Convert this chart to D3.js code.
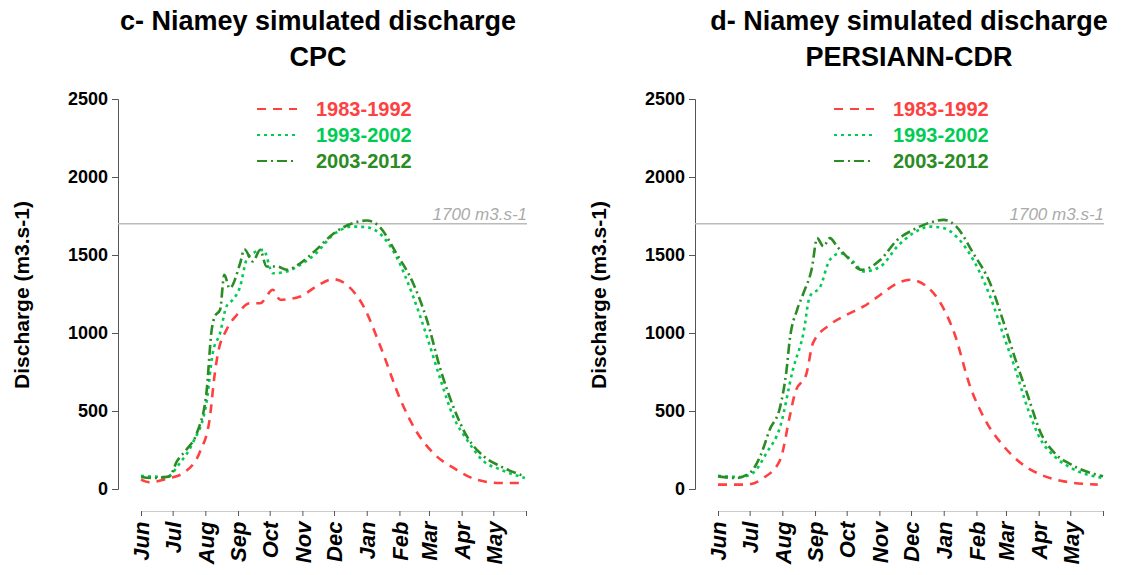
<!DOCTYPE html>
<html><head><meta charset="utf-8">
<script src="https://cdn.jsdelivr.net/npm/d3@7"></script>
<style>body{margin:0;background:#fff;font-family:"Liberation Sans",Arial,sans-serif}</style>
</head><body><div id="chart"></div>
<script>
// day of hydrological year (0 = 1 June), discharge m3/s
const monthLabels = ["Jun","Jul","Aug","Sep","Oct","Nov","Dec","Jan","Feb","Mar","Apr","May"];
const monthStarts = [0,30,61,92,122,153,183,214,245,273,304,334,365];
const seriesNames = ["1983-1992","1993-2002","2003-2012"];

const cpc8392 = [[0,60],[8,43],[27,70],[40,102],[56,241],[65,444],[70,743],[73,871],[81,1020],[91,1117],[103,1191],[113,1191],[125,1277],[132,1213],[151,1234],[166,1298],[182,1345],[195,1309],[211,1170],[227,914],[246,572],[262,359],[277,231],[299,124],[318,60],[341,38],[364,38]];
const cpc9302 = [[0,85],[24,77],[37,167],[49,295],[62,551],[68,871],[75,1000],[81,1170],[87,1213],[94,1298],[100,1469],[106,1511],[116,1533],[125,1383],[138,1394],[151,1437],[166,1511],[182,1629],[201,1682],[214,1678],[226,1640],[242,1490],[258,1234],[271,978],[284,700],[296,465],[309,316],[325,177],[341,124],[364,70]];
const cpc0312 = [[0,77],[11,70],[27,81],[34,177],[43,252],[53,359],[62,615],[67,1020],[70,1106],[75,1149],[79,1373],[84,1287],[94,1447],[98,1537],[106,1458],[113,1533],[119,1426],[129,1426],[138,1405],[151,1447],[166,1533],[182,1635],[201,1704],[214,1721],[226,1682],[242,1511],[258,1319],[271,1085],[284,764],[296,529],[309,337],[325,209],[341,145],[364,81]];

const per8392 = [[0,28],[27,28],[43,70],[59,188],[68,465],[73,615],[84,743],[90,935],[106,1053],[122,1117],[138,1170],[154,1245],[170,1319],[182,1341],[198,1298],[211,1191],[224,1000],[239,658],[255,423],[271,273],[287,167],[306,92],[328,49],[360,28]];
const per9302 = [[0,85],[21,77],[33,102],[46,231],[59,401],[71,764],[81,1000],[87,1234],[97,1298],[106,1469],[116,1511],[128,1458],[138,1394],[154,1426],[170,1554],[185,1640],[201,1682],[214,1672],[226,1618],[242,1469],[258,1234],[271,978],[281,786],[294,508],[306,316],[319,209],[335,134],[365,70]];
const per0312 = [[0,81],[17,70],[30,102],[40,209],[49,380],[59,529],[65,764],[68,956],[75,1149],[81,1255],[89,1415],[94,1608],[100,1554],[106,1608],[113,1554],[122,1490],[136,1405],[154,1469],[170,1597],[185,1661],[201,1708],[214,1725],[226,1682],[242,1511],[258,1319],[271,1063],[281,850],[294,593],[306,359],[319,231],[335,156],[365,81]];

const colors = ["#ff4040","#00cc55","#2a8c22"];
const dashes = ["9,7","3,4","10,4,2,4"];

const svg = d3.select("#chart").append("svg").attr("width",1129).attr("height",575);

function panel(ox, jx, tcx, title1, title2, data) {
  const x = d3.scaleLinear().domain([0,365]).range([jx, jx+385]);
  const y = d3.scaleLinear().domain([0,2500]).range([489, 99]);
  const g = svg.append("g");
  g.append("text").attr("x",tcx).attr("y",30).attr("text-anchor","middle")
    .attr("font-size",27).attr("font-weight","bold").text(title1);
  g.append("text").attr("x",tcx).attr("y",66).attr("text-anchor","middle")
    .attr("font-size",27).attr("font-weight","bold").text(title2);
  g.append("text").attr("transform",`translate(${ox+11},295) rotate(-90)`).attr("text-anchor","middle")
    .attr("font-size",21).attr("font-weight","bold").text("Discharge (m3.s-1)");

  const ya = g.append("g").attr("transform",`translate(${ox+100},0)`)
    .call(d3.axisLeft(y).tickValues([0,500,1000,1500,2000,2500]).tickFormat(d3.format("d")).tickSize(6).tickPadding(4));
  ya.select(".domain").attr("stroke","#555");
  ya.selectAll(".tick line").attr("stroke","#555");
  ya.selectAll("text").attr("font-size",18).attr("font-weight","bold").attr("fill","#000")
    .attr("font-family","Liberation Sans, Arial, sans-serif");

  const xa = g.append("g").attr("transform","translate(0,511)")
    .call(d3.axisBottom(x).tickValues(monthStarts).tickSize(5).tickSizeOuter(0).tickFormat((d,i)=>monthLabels[i]||""));
  xa.select(".domain").attr("stroke","#ccc");
  xa.selectAll(".tick line").attr("stroke","#555");
  xa.selectAll("text").attr("font-size",22).attr("font-weight","bold").attr("font-style","italic")
    .attr("fill","#000").attr("font-family","Liberation Sans, Arial, sans-serif")
    .attr("transform","rotate(-90)").attr("text-anchor","end").attr("dx","-0.3em").attr("dy","0.35em").attr("y",0).attr("x",-4);

  g.append("line").attr("x1",ox+100).attr("x2",jx+386).attr("y1",y(1700)).attr("y2",y(1700))
    .attr("stroke","#bbb").attr("stroke-width",1.5);
  g.append("text").attr("x",jx+386).attr("y",y(1700)-4).attr("text-anchor","end")
    .attr("font-size",17).attr("font-style","italic").attr("fill","#aaa").text("1700 m3.s-1");

  const line = d3.line().x(d=>x(d[0])).y(d=>y(d[1])).curve(d3.curveMonotoneX);
  data.forEach((s,i)=>{
    g.append("path").datum(s).attr("d",line).attr("fill","none")
      .attr("stroke",colors[i]).attr("stroke-width",2.6).attr("stroke-dasharray",dashes[i]);
    const ly = 109 + i*26;
    g.append("line").attr("x1",jx+116).attr("x2",jx+156).attr("y1",ly).attr("y2",ly)
      .attr("stroke",colors[i]).attr("stroke-width",2.2).attr("stroke-dasharray",dashes[i]);
    g.append("text").attr("x",jx+175).attr("y",ly+7).attr("font-size",20).attr("font-weight","bold")
      .attr("fill",colors[i]).text(seriesNames[i]);
  });
}
panel(18, 141, 318, "c- Niamey simulated discharge", "CPC", [cpc8392, cpc9302, cpc0312]);
panel(595, 718, 909, "d- Niamey simulated discharge", "PERSIANN-CDR", [per8392, per9302, per0312]);
</script></body></html>
